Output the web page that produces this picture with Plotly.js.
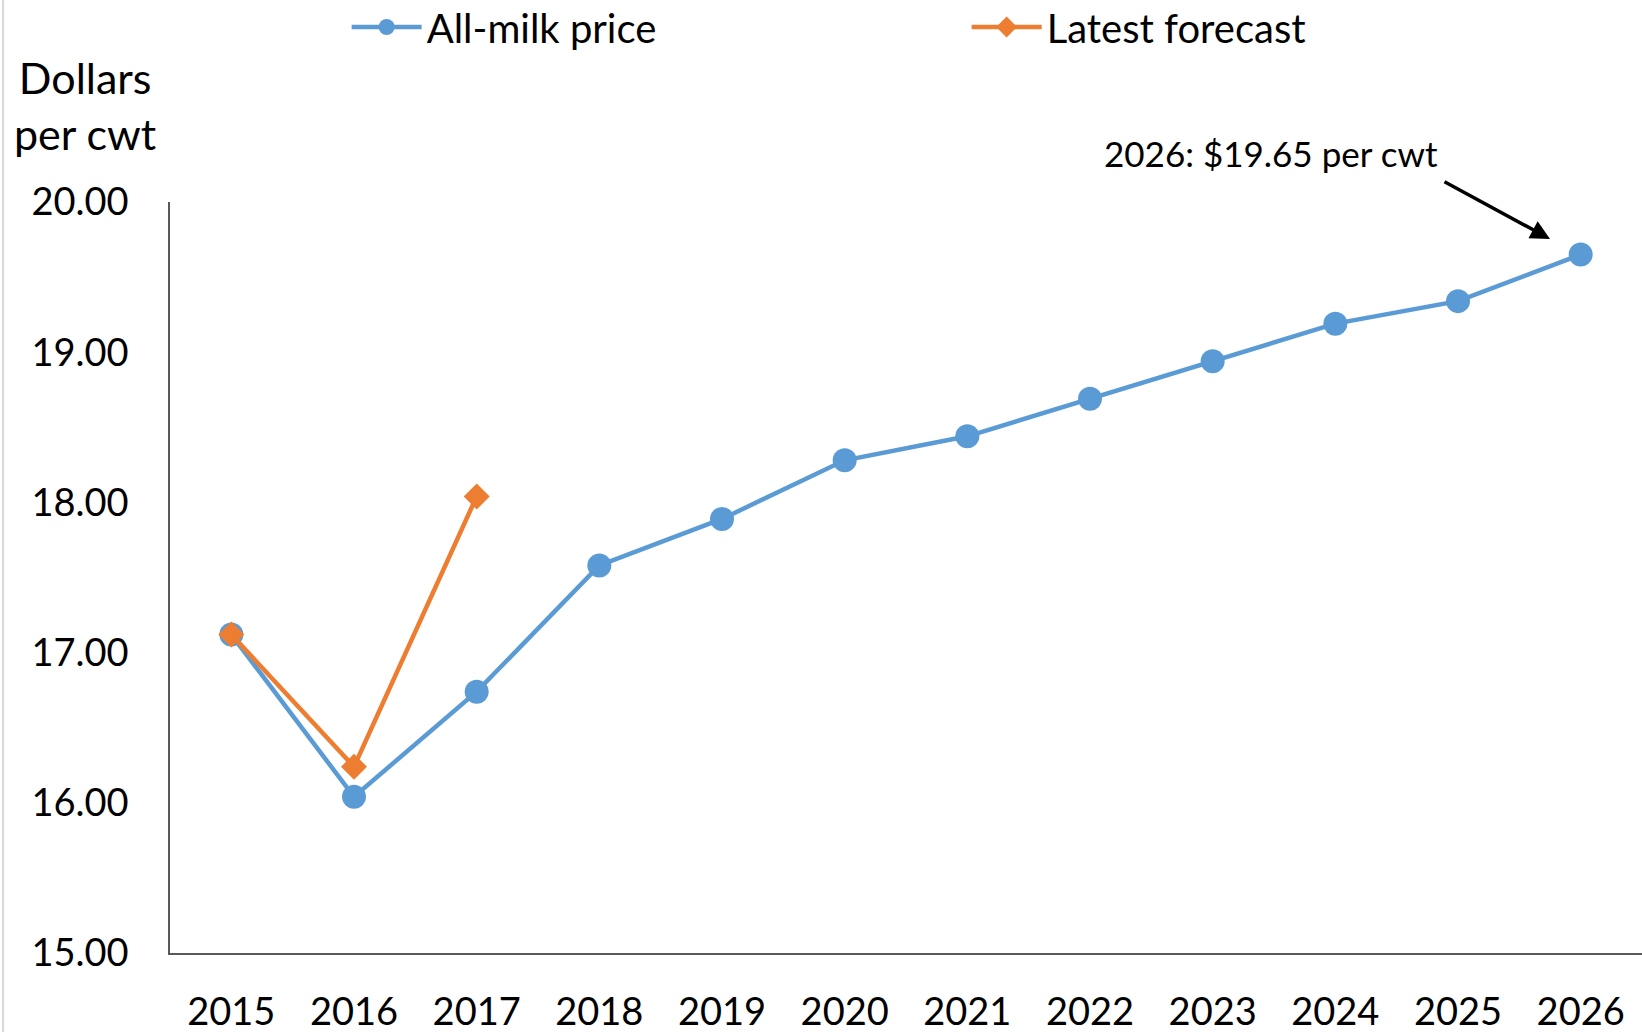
<!DOCTYPE html>
<html>
<head>
<meta charset="utf-8">
<script src="https://cdn.plot.ly/plotly-3.0.1.min.js"></script>
<style>
  html, body { margin: 0; padding: 0; background: #fff; }
  #chart { width: 1642px; height: 1032px; }
</style>
</head>
<body>
<div id="chart"></div>
<script>
var years = ["2015", "2016", "2017", "2018", "2019", "2020", "2021", "2022", "2023", "2024", "2025", "2026"];
var allMilk = [17.12, 16.04, 16.74, 17.58, 17.89, 18.28, 18.44, 18.69, 18.94, 19.19, 19.34, 19.65];
var forecastYears = ["2015", "2016", "2017"];
var forecast = [17.12, 16.24, 18.04];

var font = "Lato, 'Open Sans', sans-serif";

var trace1 = {
  x: years,
  y: allMilk,
  mode: "lines+markers",
  name: "All-milk price",
  line: { color: "#5b9bd5", width: 4.5 },
  marker: { color: "#5b9bd5", size: 24, symbol: "circle" },
};
var trace2 = {
  x: forecastYears,
  y: forecast,
  mode: "lines+markers",
  name: "Latest forecast",
  line: { color: "#ed7d31", width: 4.5 },
  marker: { color: "#ed7d31", size: 20, symbol: "diamond" },
};

var layout = {
  width: 1642,
  height: 1032,
  margin: { l: 170, r: 0, t: 202, b: 79, autoexpand: false },
  paper_bgcolor: "#fff",
  plot_bgcolor: "#fff",
  font: { family: font, size: 38, color: "#000" },
  showlegend: true,
  legend: {
    orientation: "h",
    x: 0.12,
    xanchor: "left",
    y: 1.233,
    yanchor: "middle",
    itemwidth: 70,
    entrywidth: 535,
    entrywidthmode: "pixels",
    font: { family: font, size: 40, color: "#000" },
  },
  xaxis: {
    type: "category",
    range: [-0.5, 11.5],
    showgrid: false,
    zeroline: false,
    showline: true,
    linecolor: "#595959",
    linewidth: 1.5,
    ticks: "",
    ticklabelstandoff: 25,
    tickfont: { family: font, size: 38, color: "#000" },
  },
  yaxis: {
    range: [15, 20],
    dtick: 1,
    tickformat: ".2f",
    showgrid: false,
    zeroline: false,
    showline: true,
    linecolor: "#595959",
    linewidth: 1.5,
    ticks: "",
    ticklabelstandoff: 32,
    tickfont: { family: font, size: 38, color: "#000" },
  },
  annotations: [
    {
      xref: "paper",
      yref: "paper",
      x: -0.058,
      y: 1.129,
      xanchor: "center",
      yanchor: "middle",
      text: "Dollars<br>per cwt",
      showarrow: false,
      font: { family: font, size: 43, color: "#000" },
    },
    {
      xref: "paper",
      yref: "paper",
      x: 0.748,
      y: 1.065,
      xanchor: "center",
      yanchor: "middle",
      text: "2026: $19.65 per cwt",
      showarrow: false,
      font: { family: font, size: 35, color: "#000" },
    },
    {
      xref: "x",
      yref: "y",
      x: 10.75,
      y: 19.754,
      text: "",
      showarrow: true,
      arrowhead: 2,
      arrowsize: 1.1,
      arrowwidth: 3.5,
      arrowcolor: "#000",
      ax: -107,
      ay: -58,
    },
  ],
  shapes: [
    {
      type: "line",
      xref: "paper",
      yref: "paper",
      x0: -0.1134,
      x1: -0.1134,
      y0: -0.11,
      y1: 1.27,
      line: { color: "#d9d9d9", width: 2 },
    },
  ],
};

Plotly.newPlot("chart", [trace1, trace2], layout, { displayModeBar: false, responsive: false });
</script>
</body>
</html>
